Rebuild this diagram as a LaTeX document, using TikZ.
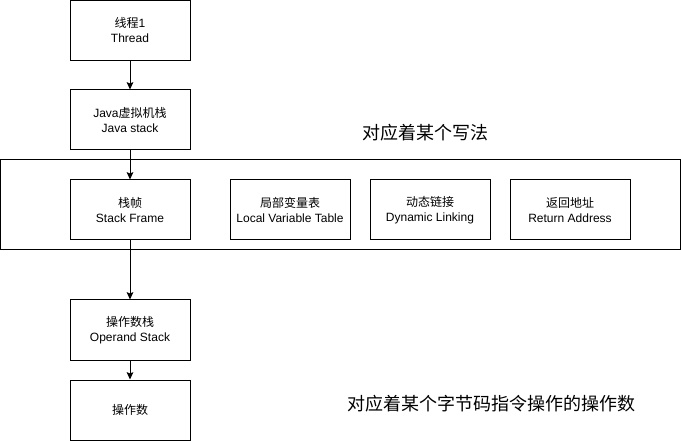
\documentclass[tikz,border=0pt]{standalone}
\usepackage{fontspec}
\setmainfont{Liberation Sans}
\newfontfamily\cjk{Noto Sans CJK SC}
\usetikzlibrary{arrows.meta}
\tikzset{
  box/.style={draw, line width=0.75pt, minimum width=90pt, minimum height=45pt, inner sep=0pt, align=center, font=\fontsize{9}{11.25}\selectfont},
  outer/.style={draw, line width=0.75pt, minimum width=510pt, minimum height=67.5pt, inner sep=0pt},
  note/.style={inner sep=0pt, font=\cjk\fontsize{13.5}{16}\selectfont},
  conn/.style={line width=0.75pt, -{Stealth[length=5.5pt,width=5pt,inset=1pt]}}
}
\begin{document}
\begin{tikzpicture}[x=0.75pt,y=-0.75pt]
\useasboundingbox (0,0) rectangle (681,441);
\node[outer] (frame) at (340.5,205) {};
\node[box] (thread) at (130,30.5) {{\cjk 线程}1\\Thread};
\node[box] (jstack) at (130,120) {Java{\cjk 虚拟机栈}\\Java stack};
\node[box] (sframe) at (130,210) {{\cjk 栈帧}\\Stack Frame};
\node[box] (lvt) at (290,210) {{\cjk 局部变量表}\\Local Variable Table};
\node[box] (dyn) at (430,210) {{\cjk 动态链接}\\Dynamic Linking};
\node[box] (ret) at (570,210) {{\cjk 返回地址}\\Return Address};
\node[box] (ostack) at (130,330) {{\cjk 操作数栈}\\Operand Stack};
\node[box] (operand) at (130,410) {\cjk 操作数};
\node[note] (note1) at (425,133) {对应着某个写法};
\node[note] (note2) at (491,404) {对应着某个字节码指令操作的操作数};
\draw[conn] (thread) -- (jstack);
\draw[conn] (jstack) -- (sframe);
\draw[conn] (sframe) -- (ostack);
\draw[conn] (ostack) -- (operand);
\end{tikzpicture}
\end{document}
